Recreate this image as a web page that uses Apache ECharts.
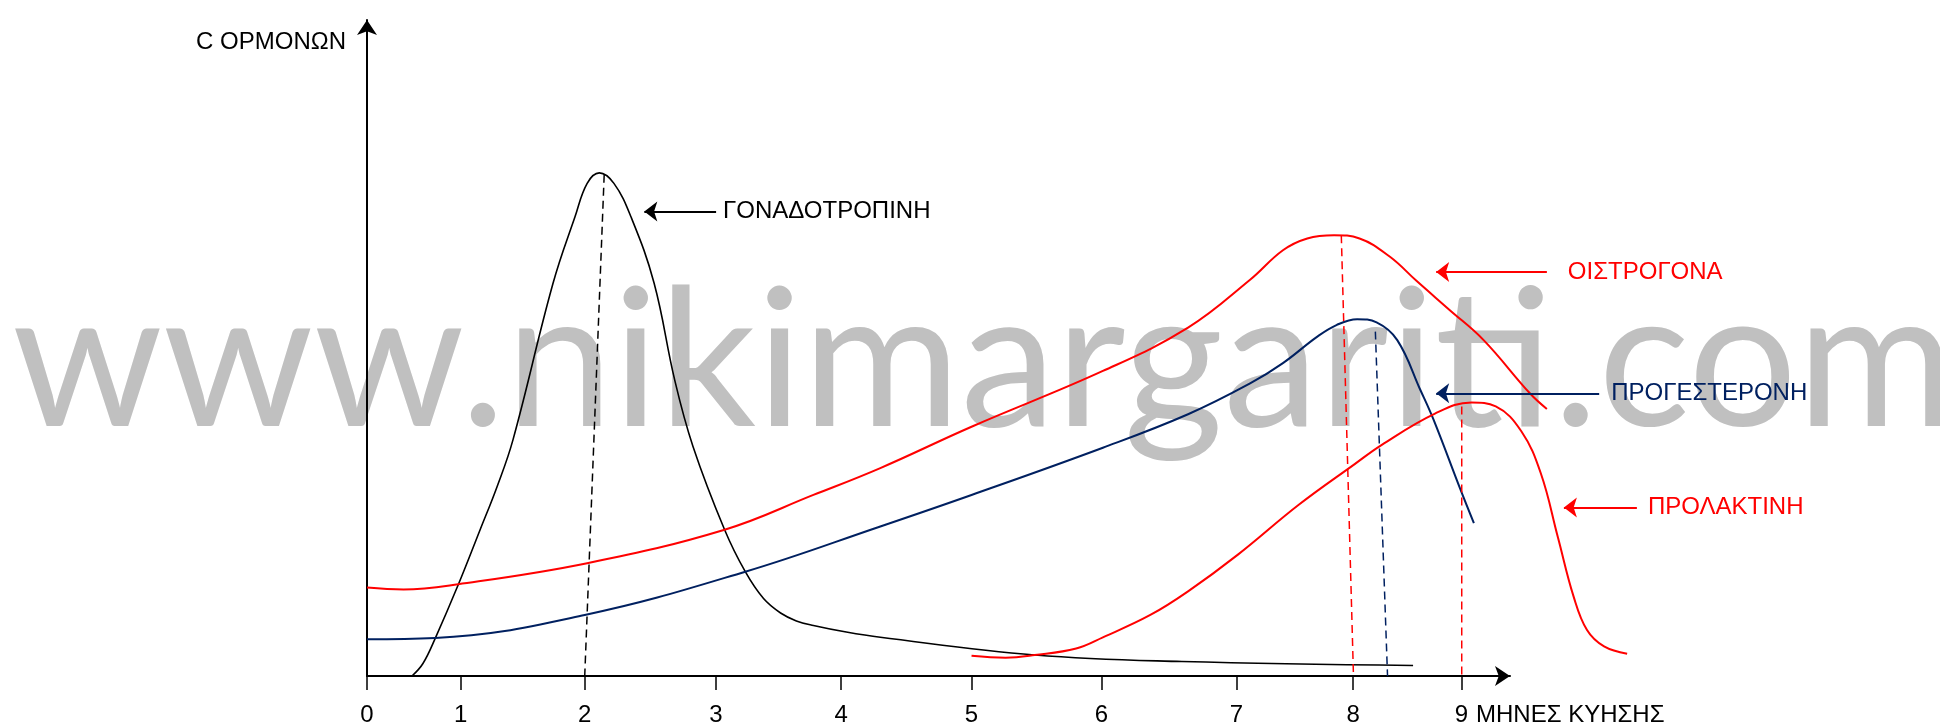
<!DOCTYPE html>
<html>
<head>
<meta charset="utf-8">
<title>Ορμόνες κύησης</title>
<script src="https://cdn.jsdelivr.net/npm/echarts@6/dist/echarts.min.js"></script>
<style>
    html, body { margin: 0; padding: 0; background: #fff; }
    #container { width: 1940px; height: 727px; }
</style>
</head>
<body>
<div id="container"></div>
<script>
// x: position along the month axis (tick 0 -> 0, tick 9 -> 9), y: % of axis height
var tickPos = [0, 0.77, 1.79, 2.87, 3.90, 4.97, 6.04, 7.15, 8.11, 9];
var tickLabels = ['0', '1', '2', '3', '4', '5', '6', '7', '8', '9'];

var gonadotropin = [[0.37, 0], [0.46, 1.9], [0.56, 5.7], [0.75, 13.9], [0.93, 22.3], [1.07, 28.9], [1.20, 36.0],
    [1.53, 59.9], [1.71, 70.0], [1.81, 75.1], [1.91, 76.7], [2.03, 75.1], [2.17, 70.0], [2.36, 59.9],
    [2.53, 45.1], [2.68, 35.0], [2.94, 22.3], [3.11, 15.9], [3.26, 11.8], [3.40, 9.6], [3.53, 8.4], [3.67, 7.7],
    [3.94, 6.7], [4.22, 5.9], [5.49, 3.2], [6.70, 2.2], [8.60, 1.6]];
var estrogen = [[0, 13.5], [0.30, 13.2], [0.75, 14.0], [1.81, 17.2], [2.94, 22.3], [3.67, 27.6], [4.22, 31.7],
    [4.97, 38.0], [6.05, 46.5], [6.75, 53.1], [7.26, 60.4], [7.53, 64.9], [7.73, 66.7], [7.95, 67.2], [8.16, 66.7],
    [8.41, 63.9], [8.63, 60.2], [8.90, 55.8], [9.18, 51.2], [9.56, 43.1], [9.70, 40.7]];
var progesterone = [[0, 5.6], [0.56, 5.8], [1.79, 9.3], [3.11, 15.9], [4.22, 22.8], [4.97, 27.6], [6.05, 34.8],
    [6.75, 39.9], [7.26, 44.6], [7.53, 47.7], [7.81, 51.7], [7.97, 53.5], [8.14, 54.4], [8.30, 53.9], [8.47, 51.2],
    [8.66, 43.6], [8.77, 39.0], [8.99, 28.4], [9.10, 23.3]];
var prolactin = [[4.97, 3.1], [5.25, 2.8], [5.49, 3.2], [5.83, 4.2], [6.05, 5.9], [6.44, 9.3], [6.75, 12.9],
    [7.16, 18.5], [7.66, 26.1], [8.12, 32.3], [8.34, 35.2], [8.78, 40.0], [9.08, 41.7], [9.28, 41.1], [9.49, 37.3],
    [9.65, 30.9], [9.79, 21.2], [9.92, 12.1], [10.03, 7.0], [10.17, 4.5], [10.36, 3.4]];

// dashed drops from each peak to the month axis
var peakDrops = [
    [[1.95, 76.4], [1.79, 0]],
    [[8.01, 67.2], [8.11, 0]],
    [[8.29, 52.5], [8.39, 0]],
    [[9.00, 41.1], [9.00, 0]]
];

var hormoneNames = ['ΓΟΝΑΔΟΤΡΟΠΙΝΗ', 'ΟΙΣΤΡΟΓΟΝΑ', 'ΠΡΟΓΕΣΤΕΡΟΝΗ', 'ΠΡΟΛΑΚΤΙΝΗ'];
var arrowLevel = [70.8, 61.6, 43.1, 25.7];
var arrowTail = [2.87, 9.70, 10.13, 10.44];
var arrowHead = [2.28, 8.79, 8.79, 9.84];

var xAxisName = 'ΜΗΝΕΣ ΚΥΗΣΗΣ';
var yAxisName = 'C ΟΡΜΟΝΩΝ';
var watermark = 'www.nikimargariti.com';

var colors = ['#000000', '#ff0000', '#002060', '#ff0000'];
var labelGap = [7, 21, 12, 11];
var FONT = 'Liberation Sans, Arial, sans-serif';

var dom = document.getElementById('container');
var myChart = echarts.init(dom);

function curve(data, i) {
    return {
        type: 'line',
        xAxisIndex: 1,
        yAxisIndex: 1,
        data: data,
        smooth: 0.4,
        showSymbol: false,
        silent: true,
        lineStyle: { color: colors[i], width: i === 0 ? 1.6 : 2 },
        markLine: {
            silent: true,
            symbol: ['none', 'arrow'],
            symbolSize: [15, 13],
            lineStyle: { color: colors[i], width: 2, type: 'solid' },
            label: {
                show: true,
                position: 'start',
                distance: labelGap[i],
                formatter: hormoneNames[i],
                color: colors[i],
                fontSize: 24,
                fontFamily: FONT
            },
            data: [[{ coord: [arrowTail[i], arrowLevel[i]] }, { coord: [arrowHead[i], arrowLevel[i]] }]]
        }
    };
}

var series = [curve(gonadotropin, 0), curve(estrogen, 1), curve(progesterone, 2), curve(prolactin, 3)];
for (var i = 0; i < peakDrops.length; i++) {
    series.push({
        type: 'line',
        xAxisIndex: 1,
        yAxisIndex: 1,
        data: peakDrops[i],
        showSymbol: false,
        silent: true,
        lineStyle: { color: colors[i], width: 1.5, type: [8, 5] }
    });
}

var option = {
    animation: false,
    backgroundColor: '#fff',
    graphic: [{
        type: 'text',
        z: -10,
        x: 12,
        y: 364,
        silent: true,
        style: {
            text: watermark,
            font: 'normal 192px Lato',
            fill: '#c0c0c0',
            align: 'left',
            verticalAlign: 'middle'
        }
    }],
    grid: [
        { left: 367, top: 20, right: 430, bottom: 51, outerBoundsMode: 'none' },
        { left: 367, top: 20, right: 235, bottom: 51, outerBoundsMode: 'none' }
    ],
    xAxis: [{
        type: 'value',
        gridIndex: 0,
        min: 0,
        max: 9.4,
        name: xAxisName,
        nameLocation: 'end',
        nameGap: -34,
        nameTextStyle: { color: '#000', fontSize: 24, fontFamily: FONT, align: 'left', verticalAlign: 'top', padding: [27, 0, 0, 0] },
        axisLine: { show: true, symbol: ['none', 'arrow'], symbolSize: [15, 15], lineStyle: { color: '#000', width: 2 } },
        axisTick: { show: true, customValues: tickPos, length: 14, lineStyle: { color: '#000', width: 1.5 } },
        axisLabel: {
            customValues: tickPos,
            margin: 27,
            color: '#000',
            fontSize: 24,
            fontFamily: FONT,
            formatter: function (v) {
                var k = tickPos.indexOf(v);
                return k >= 0 ? tickLabels[k] : '';
            }
        },
        splitLine: { show: false }
    }, {
        type: 'value',
        gridIndex: 1,
        min: 0,
        max: 11,
        show: false
    }],
    yAxis: [{
        type: 'value',
        gridIndex: 0,
        min: 0,
        max: 100,
        name: yAxisName,
        nameLocation: 'end',
        nameGap: -22,
        nameTextStyle: { color: '#000', fontSize: 24, fontFamily: FONT, align: 'right', verticalAlign: 'middle', padding: [0, 21, 0, 0] },
        axisLine: { show: true, symbol: ['none', 'arrow'], symbolSize: [15, 15], lineStyle: { color: '#000', width: 2 } },
        axisTick: { show: false },
        axisLabel: { show: false },
        splitLine: { show: false }
    }, {
        type: 'value',
        gridIndex: 1,
        min: 0,
        max: 100,
        show: false
    }],
    series: series
};

if (option && typeof option === "object") {
    myChart.setOption(option, true);
}
</script>
</body>
</html>
